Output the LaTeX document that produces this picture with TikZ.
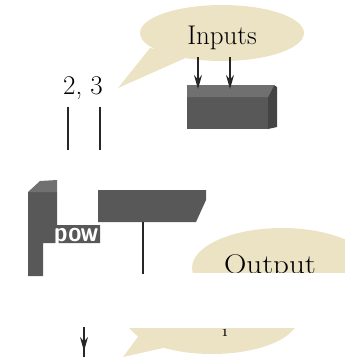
\documentclass[tikz,border=0pt]{standalone}
\usetikzlibrary{arrows.meta}
\definecolor{bubble}{RGB}{236,227,197}
\definecolor{slab}{RGB}{88,88,88}
\definecolor{slabtop}{RGB}{112,112,112}
\definecolor{slabside}{RGB}{68,68,68}
\begin{document}
\begin{tikzpicture}[x=1pt,y=-1pt,>={Stealth[length=14pt,width=8pt]},
  wire/.style={line width=1.8pt,color=black!85},
  big/.style={font=\fontsize{27}{30}\selectfont,inner sep=0pt}]
\useasboundingbox (0,0) rectangle (345,357);
% callout above the block
\fill[bubble] (222,33) ellipse (82 and 28);
\fill[bubble] (150,48) -- (118,88) -- (190,56) -- cycle;
\node[big] (inputs) at (222,38) {Inputs};
% the block
\fill[slab]     (187,97) -- (268,97) -- (268,129) -- (187,129) -- cycle;
\fill[slabtop]  (187,85) -- (274,85) -- (268,97) -- (187,97) -- cycle;
\fill[slabside] (268,97) -- (274,85) -- (277,87) -- (277,127) -- (268,129) -- cycle;
\coordinate (inA) at (198,57); \coordinate (boxA) at (198,89);
\coordinate (inB) at (230,57); \coordinate (boxB) at (230,89);
\draw[wire,->] (inA) -- (boxA);
\draw[wire,->] (inB) -- (boxB);
% arguments
\node[big] (args) at (83,88) {2, 3};
\coordinate (a1) at (68,107); \coordinate (a1e) at (68,150);
\coordinate (a2) at (100,107); \coordinate (a2e) at (100,150);
\draw[wire] (a1) -- (a1e);
\draw[wire] (a2) -- (a2e);
% cut-up slabs in the middle
\fill[slab] (28,192) -- (57,192) -- (57,225) -- (100,225) -- (100,243)
  -- (43,243) -- (43,276) -- (28,276) -- cycle;
\fill[slabtop] (28,192) -- (40,181) -- (57,180) -- (57,192) -- cycle;
\begin{scope}
  \clip (53,225) rectangle (100,243);
  \node[font=\sffamily\bfseries\fontsize{28}{30}\selectfont,text=white,inner sep=0pt,
    anchor=base west,xscale=0.85] (pow) at (54,241) {pow};
\end{scope}
\fill[slab] (98,190) -- (206,190) -- (206,200) -- (196,222) -- (98,222) -- cycle;
\coordinate (res) at (143,222); \coordinate (rese) at (143,274);
\draw[wire] (res) -- (rese);
% output callout, cut off below
\begin{scope}
  \clip (0,0) rectangle (345,272);
  \fill[bubble] (282,268) ellipse (90 and 40);
  \node[big,anchor=base,xscale=1.15] (output) at (270,273) {Output};
\end{scope}
% bottom strip
\coordinate (down) at (84,327); \coordinate (downe) at (84,351);
\draw[wire,->] (down) -- (downe);
\draw[wire] (84,348) -- (84,357);
\begin{scope}
  \clip (0,328) rectangle (345,357);
  \fill[bubble] (212,318) ellipse (86 and 36);
  \fill[bubble] (140,334) -- (123,357) -- (172,346) -- cycle;
  \node[font=\fontsize{11}{12}\selectfont\bfseries,inner sep=0pt] (one) at (225,333) {1};
\end{scope}
\end{tikzpicture}
\end{document}
